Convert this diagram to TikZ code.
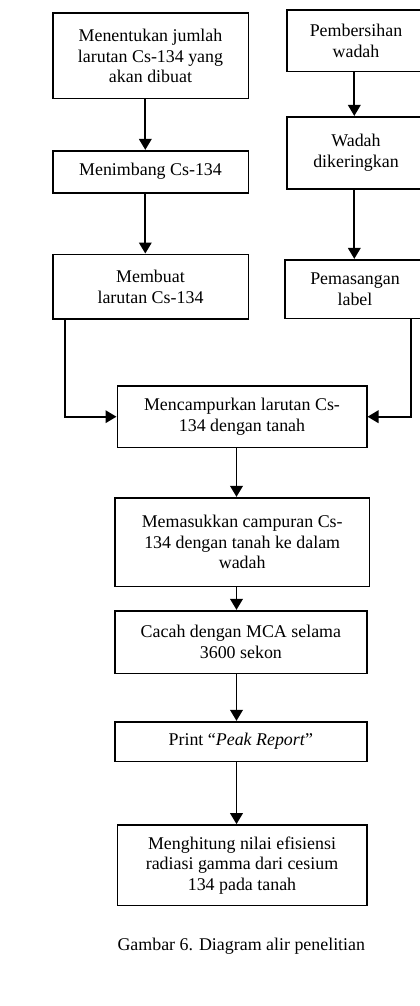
\documentclass[tikz,border=0pt]{standalone}
\usepackage{fontspec}
\setmainfont{Liberation Serif}
\usetikzlibrary{arrows.meta}
\begin{document}
\begin{tikzpicture}[x=1pt,y=-1pt,
  font=\fontsize{17.9}{20.7}\selectfont,
  stepbox/.style={draw=black,line width=1.6pt,rectangle,inner sep=0pt,align=center},
  arr/.style={line width=1.9pt,-{Triangle[width=12.5pt,length=11pt]}}]
\clip (0,0) rectangle (420,1006);
\fill[white] (0,0) rectangle (420,1006);
% left column
\node[stepbox,minimum width=195.6pt,minimum height=85.4pt] (a) at (150.5,56) {Menentukan jumlah\\larutan Cs-134 yang\\akan dibuat};
\node[stepbox,minimum width=195.6pt,minimum height=42pt] (b) at (150.5,171.7) {Menimbang Cs-134};
\node[stepbox,minimum width=195.6pt,minimum height=64.7pt] (c) at (150.5,286.7) {Membuat\\larutan Cs-134};
% right column
\node[stepbox,minimum width=138.6pt,minimum height=61.3pt] (d) at (356,40.7) {Pembersihan\\wadah};
\node[stepbox,minimum width=138.6pt,minimum height=72.3pt] (e) at (356,152.9) {Wadah\\dikeringkan};
\node[stepbox,minimum width=140pt,minimum height=58.6pt] (f) at (355,289) {Pemasangan\\label};
% main column
\node[stepbox,minimum width=249.4pt,minimum height=61.3pt] (g) at (242,416.7) {Mencampurkan larutan Cs-\\134 dengan tanah};
\node[stepbox,minimum width=254.3pt,minimum height=88.6pt] (h) at (242.2,542) {Memasukkan campuran Cs-\\134 dengan tanah ke dalam\\wadah};
\node[stepbox,minimum width=251.7pt,minimum height=62.6pt] (i) at (240.9,642) {Cacah dengan MCA selama\\3600 sekon};
\node[stepbox,minimum width=251.7pt,minimum height=39.6pt] (j) at (240.9,741.5) {Print “\textit{Peak Report}”};
\node[stepbox,minimum width=249.4pt,minimum height=80.7pt] (k) at (242,865.3) {Menghitung nilai efisiensi\\radiasi gamma dari cesium\\134 pada tanah};
\node (cap) at (241.3,946) {Gambar 6. Diagram alir penelitian};
% column coordinates
\coordinate (lc) at (145.3,0);
\coordinate (rc) at (354.3,0);
\coordinate (mc) at (236.5,0);
\coordinate (lx) at (65,0);
\coordinate (rx) at (410.7,0);
% connectors
\draw[arr] (a.south -| lc) -- (b.north -| lc);
\draw[arr] (b.south -| lc) -- (c.north -| lc);
\draw[arr] (d.south -| rc) -- (e.north -| rc);
\draw[arr] (e.south -| rc) -- (f.north -| rc);
\draw[arr] (c.south -| lx) |- (g.west);
\draw[arr] (f.south -| rx) |- (g.east);
\draw[arr] (g.south -| mc) -- (h.north -| mc);
\draw[arr] (h.south -| mc) -- (i.north -| mc);
\draw[arr] (i.south -| mc) -- (j.north -| mc);
\draw[arr] (j.south -| mc) -- (k.north -| mc);
\end{tikzpicture}
\end{document}
